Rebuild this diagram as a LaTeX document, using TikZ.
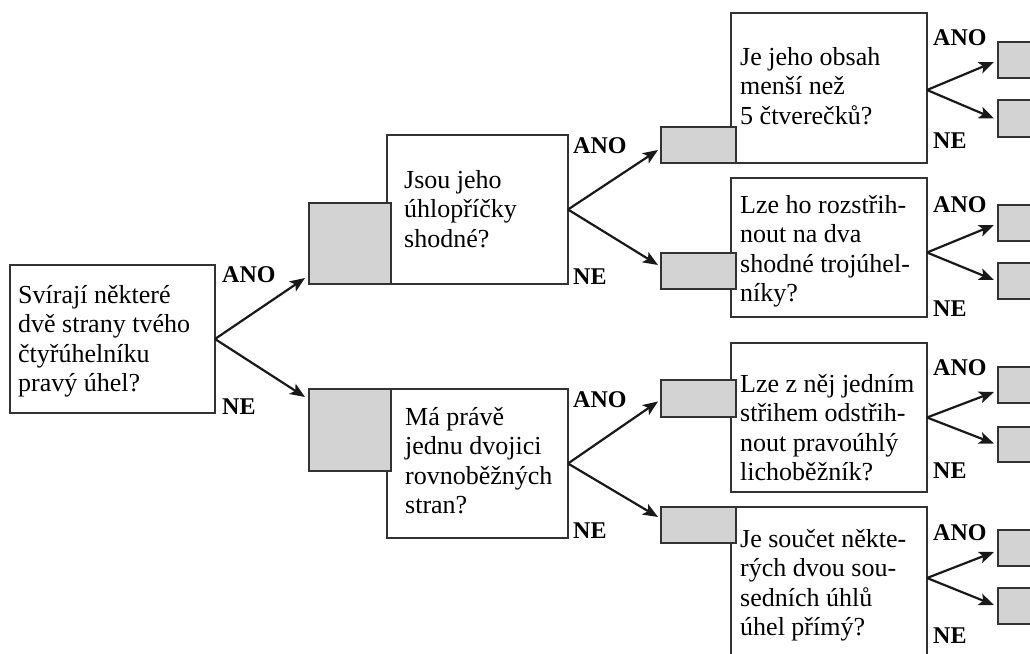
\documentclass[tikz,border=0pt]{standalone}
\usepackage{fontspec}
\setmainfont{Liberation Serif}
\usetikzlibrary{arrows.meta,calc}
\definecolor{boxgray}{HTML}{D3D3D3}
\definecolor{edgecol}{HTML}{333333}
\newcommand\firstlinestrut{\rule{0pt}{24pt}}
\begin{document}
\begin{tikzpicture}[x=1pt,y=-1pt,
  wbox/.style={draw=edgecol, fill=white, line width=1.3pt, inner sep=0pt, outer sep=0pt, anchor=north west},
  gbox/.style={wbox, fill=boxgray},
  txt/.style={anchor=north west, align=left, inner sep=0pt, font=\fontsize{26}{29.5}\selectfont},
  lab/.style={anchor=base west, inner sep=0pt, font=\fontsize{24}{24}\selectfont\bfseries},
  arr/.style={-{Stealth[length=15pt,width=12pt,inset=3.5pt]}, line width=2.2pt, black!90}]
\clip (0,0) rectangle (1030,653);
% root
\node[wbox, minimum width=205pt, minimum height=148pt] (R) at (10,265) {};
\node[txt] (tR) at (18,279) {\firstlinestrut Svírají některé\\dvě strany tvého\\čtyřúhelníku\\pravý úhel?};
\node[lab] (aR) at (222,282) {ANO};
\node[lab] (nR) at (222,414) {NE};
% level 2
\node[wbox, minimum width=181pt, minimum height=149pt] (W2) at (387,135) {};
\node[gbox, minimum width=82pt, minimum height=81pt] (G2) at (309,203) {};
\node[txt] (t2) at (404,164) {\firstlinestrut Jsou jeho\\úhlopříčky\\shodné?};
\node[lab] (a2) at (573,153) {ANO};
\node[lab] (n2) at (573,284) {NE};
\node[wbox, minimum width=181pt, minimum height=149pt] (W3) at (387,389) {};
\node[gbox, minimum width=82pt, minimum height=82pt] (G3) at (309,389) {};
\node[txt] (t3) at (405,401) {\firstlinestrut Má právě\\jednu dvojici\\rovnoběžných\\stran?};
\node[lab] (a3) at (573,407) {ANO};
\node[lab] (n3) at (573,538) {NE};
% level 3
\node[wbox, minimum width=196pt, minimum height=150pt] (W4) at (731,13) {};
\node[gbox, minimum width=75pt, minimum height=36pt] (G4) at (661,127) {};
\node[txt] (t4) at (740,41) {\firstlinestrut Je jeho obsah\\menší než\\5 čtverečků?};
\node[lab] (a4) at (933,45) {ANO};
\node[lab] (n4) at (933,148) {NE};
\node[gbox, minimum width=45pt, minimum height=36pt] (RA1) at (998,42) {};
\node[gbox, minimum width=45pt, minimum height=37pt] (RA2) at (998,100) {};

\node[wbox, minimum width=196pt, minimum height=139pt] (W5) at (731,178) {};
\node[gbox, minimum width=75pt, minimum height=36pt] (G5) at (661,253) {};
\node[txt] (t5) at (740,189) {\firstlinestrut Lze ho rozstřih-\\nout na dva\\shodné trojúhel-\\níky?};
\node[lab] (a5) at (933,212) {ANO};
\node[lab] (n5) at (933,316) {NE};
\node[gbox, minimum width=45pt, minimum height=36pt] (RB1) at (998,205) {};
\node[gbox, minimum width=45pt, minimum height=36pt] (RB2) at (998,263) {};

\node[wbox, minimum width=196pt, minimum height=149pt] (W6) at (731,343) {};
\node[gbox, minimum width=75pt, minimum height=37pt] (G6) at (661,380) {};
\node[txt] (t6) at (740,368) {\firstlinestrut Lze z něj jedním\\střihem odstřih-\\nout pravoúhlý\\lichoběžník?};
\node[lab] (a6) at (933,375) {ANO};
\node[lab] (n6) at (933,478) {NE};
\node[gbox, minimum width=45pt, minimum height=36pt] (RC1) at (998,367) {};
\node[gbox, minimum width=45pt, minimum height=35pt] (RC2) at (998,427) {};

\node[wbox, minimum width=196pt, minimum height=150pt] (W7) at (731,507) {};
\node[gbox, minimum width=75pt, minimum height=36pt] (G7) at (661,507) {};
\node[txt] (t7) at (740,523) {\firstlinestrut Je součet někte-\\rých dvou sou-\\sedních úhlů\\úhel přímý?};
\node[lab] (a7) at (933,540) {ANO};
\node[lab] (n7) at (933,643) {NE};
\node[gbox, minimum width=45pt, minimum height=36pt] (RD1) at (998,530) {};
\node[gbox, minimum width=45pt, minimum height=36pt] (RD2) at (998,588) {};
% arrows
\draw[arr] (R.east) -- ($(G2.south west)+(-4,-6)$);
\draw[arr] (R.east) -- ($(G3.north west)+(-4,8)$);
\draw[arr] (W2.east) -- ($(G4.west)+(-3,5)$);
\draw[arr] (W2.east) -- ($(G5.west)+(-3,-6)$);
\draw[arr] (W3.east) -- ($(G6.west)+(-3,3)$);
\draw[arr] (W3.east) -- ($(G7.west)+(-3,-8)$);
\draw[arr] ($(W4.east)+(0,2)$) -- ($(RA1.west)+(-4,2)$);
\draw[arr] ($(W4.east)+(0,2)$) -- ($(RA2.west)+(-4,0)$);
\draw[arr] ($(W5.east)+(0,5)$) -- ($(RB1.west)+(-4,2)$);
\draw[arr] ($(W5.east)+(0,5)$) -- ($(RB2.west)+(-4,-1)$);
\draw[arr] (W6.east) -- ($(RC1.west)+(-4,7)$);
\draw[arr] (W6.east) -- ($(RC2.west)+(-4,-1)$);
\draw[arr] ($(W7.east)+(0,-4)$) -- ($(RD1.west)+(-4,4)$);
\draw[arr] ($(W7.east)+(0,-4)$) -- ($(RD2.west)+(-4,-1)$);
\end{tikzpicture}
\end{document}
